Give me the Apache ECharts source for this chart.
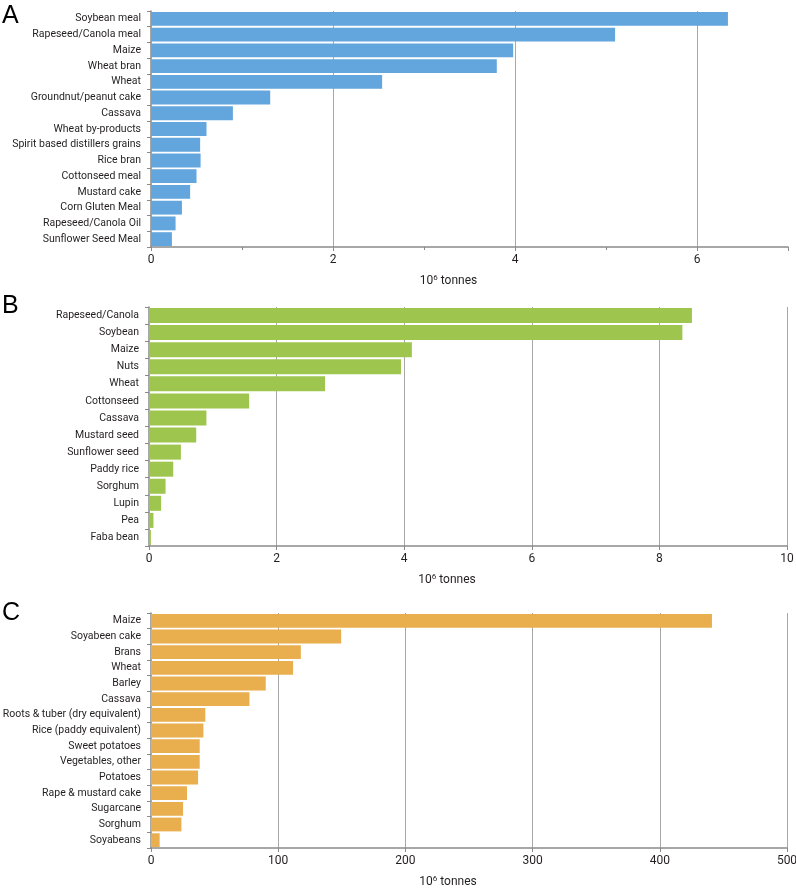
<!DOCTYPE html>
<html>
<head>
<meta charset="utf-8">
<script src="https://cdn.jsdelivr.net/npm/echarts@6/dist/echarts.min.js"></script>
<style>html,body{margin:0;padding:0;background:#fff}#c{width:796px;height:891px}</style>
</head>
<body>
<div id="c"></div>
<script>
const catsA = ['Soybean meal','Rapeseed/Canola meal','Maize','Wheat bran','Wheat','Groundnut/peanut cake','Cassava','Wheat by-products','Spirit based distillers grains','Rice bran','Cottonseed meal','Mustard cake','Corn Gluten Meal','Rapeseed/Canola Oil','Sunflower Seed Meal'];
const valsA = [6.34,5.10,3.98,3.80,2.54,1.31,0.90,0.61,0.54,0.545,0.50,0.43,0.34,0.27,0.23];

const catsB = ['Rapeseed/Canola','Soybean','Maize','Nuts','Wheat','Cottonseed','Cassava','Mustard seed','Sunflower seed','Paddy rice','Sorghum','Lupin','Pea','Faba bean'];
const valsB = [8.51,8.36,4.12,3.95,2.76,1.57,0.90,0.74,0.50,0.38,0.26,0.19,0.07,0.03];

const catsC = ['Maize','Soyabeen cake','Brans','Wheat','Barley','Cassava','Roots & tuber (dry equivalent)','Rice (paddy equivalent)','Sweet potatoes','Vegetables, other','Potatoes','Rape & mustard cake','Sugarcane','Sorghum','Soyabeans'];
const valsC = [441,149.5,117.8,111.7,90.2,77.4,42.7,41.2,38.3,38.3,37,28.3,25.2,23.9,6.8];

const panelLetters = ['A','B','C'];
const axisName = '10{sup|6} tonnes';

const FONT = 'Roboto';
const TXT = '#231f20';
const AX = '#8a8a8a';

const chart = echarts.init(document.getElementById('c'), null, {renderer:'canvas'});

function xAx(gi, max, interval, minor, labelEvery) {
  return {
    type:'value', gridIndex: gi, min:0, max:max, interval: interval,
    axisLine:{show:true, lineStyle:{color:AX, width:1.5}},
    axisTick:{show:true, length:4, lineStyle:{color:AX}},
    minorTick:{show:minor, splitNumber:2, length:3, lineStyle:{color:AX}},
    axisLabel:{fontFamily:FONT, fontSize:12, color:TXT, margin:7,
      formatter: v => (v % labelEvery === 0 ? String(v) : '')},
    splitLine:{show:true, showMinLine:false, showMaxLine: max % labelEvery === 0, lineStyle:{color:'#a8a8a8', width:1}},
    name: axisName, nameLocation:'middle', nameGap:27,
    nameTextStyle:{fontFamily:FONT, fontSize:12, color:TXT, padding:[0,42,0,0],
      rich:{sup:{fontFamily:FONT, fontSize:8, color:TXT, padding:[0,0,6,0]}}}
  };
}
function yAx(gi, cats) {
  return {
    type:'category', gridIndex: gi, data: cats, inverse:true,
    axisLine:{show:true, lineStyle:{color:AX, width:1.5}},
    axisTick:{show:true, length:4, alignWithLabel:false, lineStyle:{color:AX}},
    axisLabel:{fontFamily:FONT, fontSize:10.5, color:TXT, margin:10},
    splitLine:{show:false}
  };
}
function bar(gi, vals, color) {
  return {type:'bar', xAxisIndex:gi, yAxisIndex:gi, data: vals, barCategoryGap:'12%',
    itemStyle:{color:color}, silent:true, animation:false};
}

chart.setOption({
  animation:false,
  backgroundColor:'#fff',
  grid:[
    {left:151, right:8, top:11, height:236, outerBoundsMode:'none', containLabel:false},
    {left:149, right:9, top:307, height:239, outerBoundsMode:'none', containLabel:false},
    {left:151, right:9, top:613, height:235, outerBoundsMode:'none', containLabel:false}
  ],
  xAxis:[ xAx(0,7,2,true,2), xAx(1,10,2,false,2), xAx(2,500,100,false,100) ],
  yAxis:[ yAx(0,catsA), yAx(1,catsB), yAx(2,catsC) ],
  series:[ bar(0,valsA,'#62a6dd'), bar(1,valsB,'#9ec64f'), bar(2,valsC,'#e9ae4d') ],
  graphic:[
    {type:'text', left:2, top:4, style:{text:panelLetters[0], font:'25px "Liberation Sans"', fill:'#000'}},
    {type:'text', left:2, top:294, style:{text:panelLetters[1], font:'25px "Liberation Sans"', fill:'#000'}},
    {type:'text', left:2, top:601, style:{text:panelLetters[2], font:'25px "Liberation Sans"', fill:'#000'}}
  ]
});
</script>
</body>
</html>
